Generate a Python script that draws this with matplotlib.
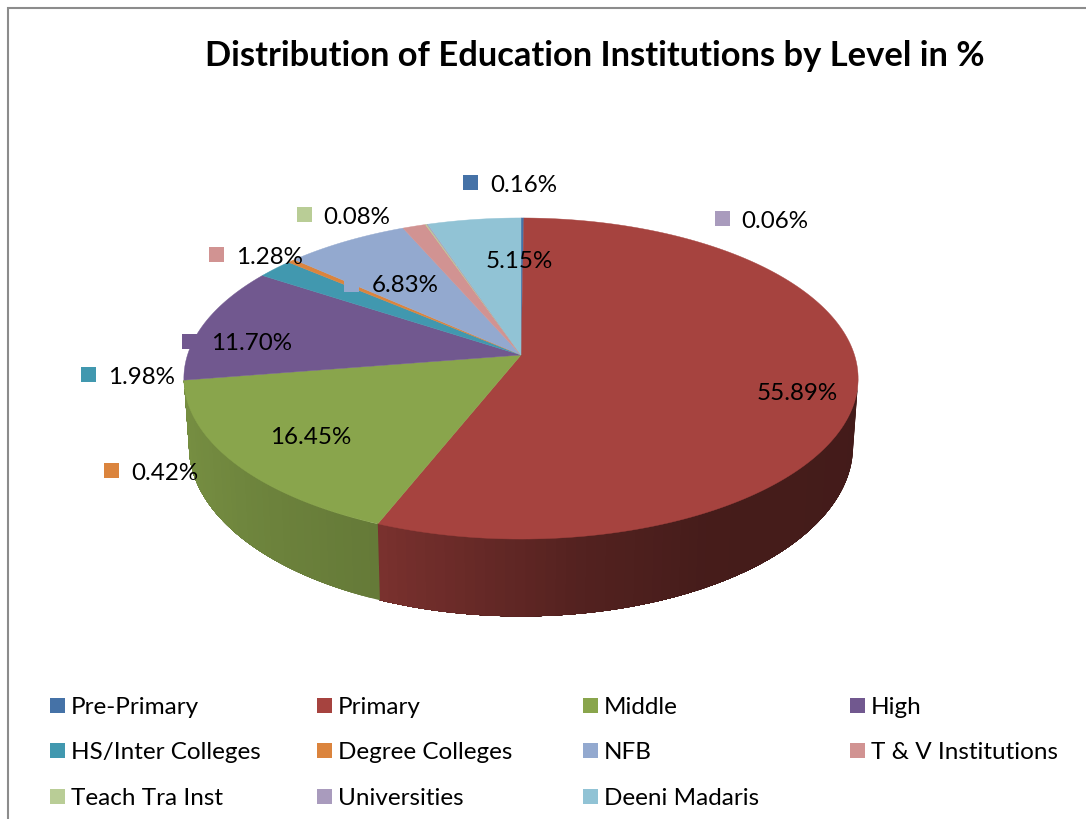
import numpy as np
import matplotlib
matplotlib.use("Agg")
import matplotlib.pyplot as plt
from matplotlib.patches import Rectangle

# Data
levels = ["Pre-Primary", "Primary", "Middle", "High", "HS/Inter Colleges", "Degree Colleges",
          "NFB", "T & V Institutions", "Teach Tra Inst", "Universities", "Deeni Madaris"]
shares = [0.16, 55.89, 16.45, 11.70, 1.98, 0.42, 6.83, 1.28, 0.08, 0.06, 5.15]
colors = ["#4572A7", "#A6433F", "#89A54C", "#71588F", "#4198AF", "#DB843D",
          "#93A9CF", "#D19392", "#B9CD96", "#A99BBD", "#91C3D5"]

# Where each data label sits (key x, key y, text x, text y in pixels)
label_pos = [(470, 182, 490, 185), (738, 390, 757, 393), (249, 434, 270, 437), (189, 341, 211, 343),
             (88, 374, 108, 378), (111, 470, 131, 474), (351, 284, 372, 285), (216, 254, 236, 258),
             (304, 214, 323, 218), (722, 218, 741, 222), (463, 258, 486, 262)]
legend_x = [50, 317, 583, 850]
legend_y = [706, 751, 797]

# Pie geometry, perspective fit of the tilted disc
cx, cy = 521, 355
R, A, k = 333.5, 157.1, 0.1464
depth = 66.0

# wall brightness against clockwise angle from the top
shade_deg = [90, 150, 170, 202, 240, 265]
shade_val = [0.40, 0.42, 0.50, 0.74, 0.84, 0.88]


def project(theta, drop=0.0, shrink=1.0):
    u, v = np.sin(theta), np.cos(theta)
    s = 1.0 / (1.0 + k * v)
    return cx + shrink * R * u * s, cy - A * v * s + drop * s


plt.rcParams["font.family"] = ["Lato", "DejaVu Sans"]
fig = plt.figure(figsize=(10.86, 8.19), dpi=100)
ax = fig.add_axes([0, 0, 1, 1])
ax.set_xlim(0, 1086)
ax.set_ylim(819, 0)
ax.axis("off")

# Chart frame (only top and left are in the crop)
ax.plot([8, 8, 1086], [819, 8, 8], color="#8c8c8c", lw=1.5, solid_joinstyle="miter")

edges = np.radians(np.concatenate([[0], np.cumsum(shares)]) * 3.6)
wall_from, wall_to = np.arccos(-k), edges[3]

# Side wall: strips to get the shading, overlapped so no seams show
for i, col in enumerate(colors):
    a0, a1 = max(edges[i], wall_from), min(edges[i + 1], wall_to)
    if a1 <= a0:
        continue
    base = np.array(matplotlib.colors.to_rgb(col))
    steps = np.linspace(a0, a1, int(np.degrees(a1 - a0) / 1.5) + 2)
    for n, t0 in enumerate(steps[:-1]):
        # each strip runs to the end of the slice, later strips paint over it
        t = np.linspace(t0, a1, 60)
        x0, y0 = project(t)
        x1, y1 = project(t[::-1], drop=depth, shrink=0.985)
        f = np.interp(np.degrees(t0), shade_deg, shade_val)
        ax.fill(np.r_[x0, x1], np.r_[y0, y1], color=base * f, lw=0)

# Top face
for i, col in enumerate(colors):
    t = np.linspace(edges[i], edges[i + 1], max(int(np.degrees(edges[i + 1] - edges[i])), 2) + 1)
    x, y = project(t)
    ax.fill(np.r_[cx, x], np.r_[cy, y], color=col, lw=0.3)

# Data labels with their keys
for val, col, (kx, ky, tx, ty) in zip(shares, colors, label_pos):
    ax.add_patch(Rectangle((kx - 7.5, ky - 7.5), 15, 15, color=col, lw=0))
    ax.text(tx, ty, "%.2f%%" % val, fontsize=17.4, color="black", va="center", ha="left")

# Legend
for i, (name, col) in enumerate(zip(levels, colors)):
    lx, ly = legend_x[i % 4], legend_y[i // 4]
    ax.add_patch(Rectangle((lx, ly - 8), 15, 15, color=col, lw=0))
    ax.text(lx + 21, ly + 1.5, name, fontsize=17.5, color="black", va="center", ha="left")

ax.text(595, 56, "Distribution of Education Institutions by Level in %", fontsize=24.8,
        fontweight="bold", color="black", va="center", ha="center")

plt.savefig("out.png", dpi=100)
